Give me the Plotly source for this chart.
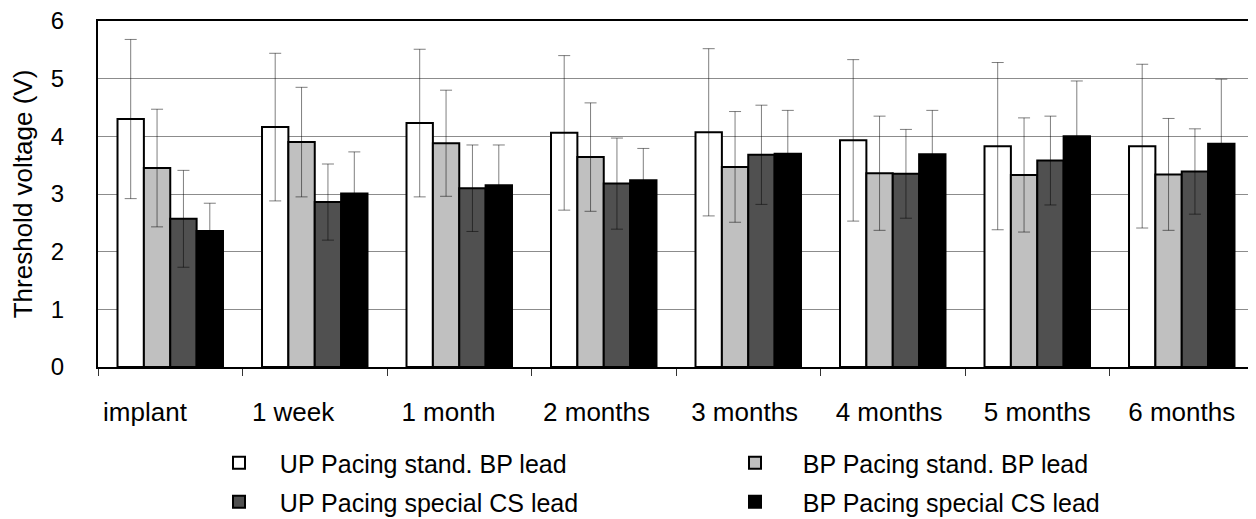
import plotly.graph_objects as go

categories = ["implant", "1 week", "1 month", "2 months", "3 months", "4 months", "5 months", "6 months"]
tick_labels = ["implant" + "\u00a0" * 7, "1 week" + "\u00a0" * 6, "1 month" + "\u00a0" * 3,
               "2 months" + "\u00a0" * 2, "3 months" + "\u00a0", "4 months" + "\u00a0", "5 months", "6 months"]

series_names = ["UP Pacing stand. BP lead", "BP Pacing stand. BP lead",
                "UP Pacing special CS lead", "BP Pacing special CS lead"]

up_stand = [4.30, 4.16, 4.23, 4.06, 4.07, 3.93, 3.83, 3.83]
up_stand_sd = [1.38, 1.28, 1.28, 1.34, 1.45, 1.40, 1.45, 1.42]
bp_stand = [3.45, 3.90, 3.88, 3.64, 3.47, 3.36, 3.33, 3.34]
bp_stand_sd = [1.02, 0.95, 0.92, 0.94, 0.96, 0.99, 0.99, 0.97]
up_special = [2.57, 2.86, 3.10, 3.18, 3.68, 3.35, 3.58, 3.39]
up_special_sd = [0.84, 0.66, 0.75, 0.79, 0.86, 0.77, 0.77, 0.74]
bp_special = [2.36, 3.01, 3.15, 3.24, 3.70, 3.69, 4.00, 3.87]
bp_special_sd = [0.48, 0.72, 0.70, 0.55, 0.75, 0.76, 0.96, 1.12]

values = [up_stand, bp_stand, up_special, bp_special]
errors = [up_stand_sd, bp_stand_sd, up_special_sd, bp_special_sd]
colors = ["#ffffff", "#c0c0c0", "#505050", "#000000"]
legend_ids = ["legend", "legend", "legend2", "legend2"]
pads = ["\u00a0" * 3, "\u00a0" * 4, "\u00a0" * 3, "\u00a0" * 4]

FONT = "Liberation Sans, Arial, sans-serif"
W, H = 1248, 511  # page body adds an 8px margin

fig = go.Figure()
for name, v, e, c, lg, p in zip(series_names, values, errors, colors, legend_ids, pads):
    fig.add_trace(go.Bar(
        x=categories, y=v, name=p + name, legend=lg,
        marker=dict(color=c, line=dict(color="#000000", width=2)),
        error_y=dict(type="data", array=e, visible=True,
                     color="rgba(0,0,0,0.5)", thickness=1, width=6),
    ))

fig.update_layout(
    width=W, height=H,
    margin=dict(l=90, r=2, t=13, b=152, autoexpand=False),
    paper_bgcolor="white", plot_bgcolor="white",
    barmode="group", bargap=0.27, bargroupgap=0,
    font=dict(family=FONT, color="#000000", size=24),
    legend=dict(orientation="h", xref="container", yref="container",
                x=211 / W, y=1 - 455 / H, xanchor="left", yanchor="middle",
                entrywidth=471, entrywidthmode="pixels",
                font=dict(size=25, family=FONT), bgcolor="rgba(0,0,0,0)"),
    legend2=dict(orientation="h", xref="container", yref="container",
                 x=211 / W, y=1 - 494 / H, xanchor="left", yanchor="middle",
                 entrywidth=471, entrywidthmode="pixels",
                 font=dict(size=25, family=FONT), bgcolor="rgba(0,0,0,0)"),
)

fig.update_xaxes(
    type="category", categoryorder="array", categoryarray=categories,
    tickvals=categories, ticktext=tick_labels,
    tickson="boundaries", ticks="outside", ticklen=7, tickcolor="#333333", tickwidth=1,
    ticklabelstandoff=21, ticklabeloverflow="allow",
    showline=True, linecolor="#000000", linewidth=2, mirror=True,
    showgrid=False, tickfont=dict(size=26, family=FONT),
)
fig.update_yaxes(
    range=[0, 6], dtick=1, tick0=0,
    showline=True, linecolor="#000000", linewidth=2, mirror=True,
    showgrid=True, gridcolor="#8c8c8c", gridwidth=1,
    ticks="", ticklabelstandoff=27, ticklabeloverflow="allow",
    tickfont=dict(size=24, family=FONT),
    title=dict(text="Threshold voltage (V)", font=dict(size=26, family=FONT), standoff=12),
    zeroline=False,
)

fig.write_html("out.html")
